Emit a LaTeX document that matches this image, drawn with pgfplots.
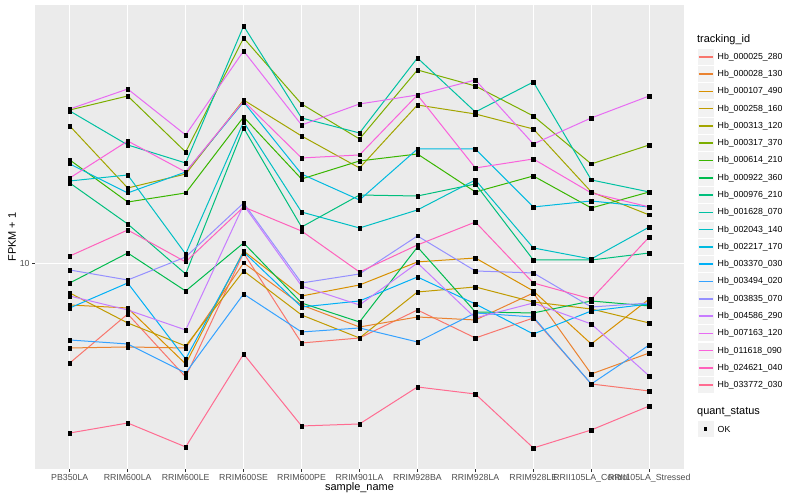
\documentclass[border=0pt]{standalone}
\usepackage{pgfplots}
\pgfplotsset{compat=1.18}
\usepackage{pgfplotstable}
\usepackage{fontspec}
\setmainfont{Liberation Sans}
\setsansfont{Liberation Sans}

\definecolor{panelgray}{HTML}{EBEBEB}
\definecolor{keygray}{HTML}{F2F2F2}
\definecolor{grey20}{HTML}{333333}
\definecolor{grey30}{HTML}{4D4D4D}
% ggplot hue palette, 20 levels
\definecolor{c01}{HTML}{F8766D}
\definecolor{c02}{HTML}{EA8331}
\definecolor{c03}{HTML}{D89000}
\definecolor{c04}{HTML}{C09B00}
\definecolor{c05}{HTML}{A3A500}
\definecolor{c06}{HTML}{7CAE00}
\definecolor{c07}{HTML}{39B600}
\definecolor{c08}{HTML}{00BB4E}
\definecolor{c09}{HTML}{00BF7D}
\definecolor{c10}{HTML}{00C1A3}
\definecolor{c11}{HTML}{00BFC4}
\definecolor{c12}{HTML}{00BAE0}
\definecolor{c13}{HTML}{00B0F6}
\definecolor{c14}{HTML}{35A2FF}
\definecolor{c15}{HTML}{9590FF}
\definecolor{c16}{HTML}{C77CFF}
\definecolor{c17}{HTML}{E76BF3}
\definecolor{c18}{HTML}{FA62DB}
\definecolor{c19}{HTML}{FF62BC}
\definecolor{c20}{HTML}{FF6C91}

% FPKM + 1 per sample (rows) and gene (columns)
\pgfplotstableread{
x  s01   s02   s03   s04   s05   s06   s07   s08   s09   s10   s11   s12   s13   s14   s15   s16   s17   s18   s19   s20
0  4.677 5.248 7.300 8.004 28.84 32.61 22.22 8.643 18.62 32.36 18.91 21.55 7.134 5.580 9.550 7.822 32.86 19.35 10.63 2.733
1  6.813 5.289 7.134 6.358 17.92 36.31 16.09 10.88 13.59 24.93 19.80 17.25 8.643 5.412 8.844 7.025 38.31 25.70 12.98 2.951
2  4.201 5.248 4.642 5.329 19.95 23.62 17.25 8.128 9.261 21.71 10.80 20.26 4.823 4.332 10.55 6.026 26.91 20.26 10.16 2.455
3  10.88 10.08 11.05 9.477 35.21 56.66 30.90 11.75 28.40 62.13 29.74 34.67 10.97 7.943 15.97 15.73 51.29 34.94 15.49 5.012
4  5.453 7.300 7.822 6.761 26.71 34.15 19.20 7.413 13.28 30.67 14.90 19.95 7.188 5.934 8.643 8.446 29.06 22.56 12.88 2.884
5  5.666 6.166 8.511 5.666 20.89 26.10 22.05 6.407 16.98 27.33 13.18 16.34 7.528 6.119 9.261 7.300 34.15 23.09 9.404 2.929
6  7.025 6.658 10.16 8.066 33.88 44.33 23.26 11.39 16.85 48.61 15.14 24.17 9.050 5.496 12.40 10.08 36.59 36.59 11.57 3.891
7  5.666 6.507 10.47 8.382 31.62 39.20 17.38 6.919 18.48 32.11 19.06 24.17 7.356 6.866 9.477 6.607 41.05 20.89 13.80 3.687
8  6.607 8.004 8.128 7.470 28.18 31.14 19.65 6.866 10.31 40.43 11.31 15.49 5.843 6.658 9.333 7.413 25.12 22.39 8.643 2.436
9  3.981 4.299 5.412 7.079 17.38 21.55 15.37 7.528 10.31 19.06 10.39 16.22 6.972 3.981 7.188 6.310 30.67 17.25 7.644 2.797
10 3.773 5.050 7.644 6.358 14.57 24.93 17.38 7.245 10.88 17.38 13.28 15.49 7.356 5.370 7.413 4.233 36.31 15.49 12.30 3.362
}\data

\begin{document}
\begin{tikzpicture}
\path (0,0) rectangle (800bp,500bp); % page = 800 x 500
\begin{axis}[
    at={(35bp,31bp)}, anchor=south west,
    scale only axis, width=649bp, height=464bp,
    clip mode=individual,
    xmin=-0.6, xmax=10.6,
    ymode=log, ymin=2.073, ymax=73.0,
    axis background/.style={fill=panelgray},
    axis line style={draw=none},
    xtick={0,...,10},
    xticklabels={PB350LA, RRIM600LA, RRIM600LE, RRIM600SE, RRIM600PE, RRIM901LA,
      RRIM928BA, RRIM928LA, RRIM928LE, RRII105LA\_Control, RRII105LA\_Stressed},
    ytick={10}, yticklabels={10},
    minor ytick={},
    xtick pos=left, ytick pos=left, tick align=outside,
    major tick length=2.75bp,
    tick style={grey20, line width=1bp},
    grid=major, major grid style={white, line width=1bp},
    ticklabel style={font=\fontsize{8.8}{10}\selectfont, text=grey30},
    xticklabel style={inner sep=0pt, yshift=-2.5bp},
    yticklabel style={inner sep=0pt, xshift=-2.5bp},
    xlabel={sample\_name}, ylabel={FPKM + 1},
    every axis x label/.style={at={(axis description cs:0.5,-0.041)}, anchor=center, font=\fontsize{11}{13}\selectfont},
    every axis y label/.style={at={(axis description cs:-0.0354,0.5)}, rotate=90, anchor=center, font=\fontsize{11}{13}\selectfont},
    legend style={at={(axis description cs:1.0200,0.9073)}, anchor=north west,
      draw=none, fill=none, inner sep=0pt, row sep=0pt,
      font=\fontsize{8.8}{10}\selectfont, nodes={inner sep=0pt},
      /tikz/every odd column/.append style={column sep=3.2bp}},
    legend cell align=left,
    legend image code/.code={
      \fill[keygray, draw=none] (0.6bp,-8.04bp) rectangle (16.68bp,8.04bp);
      \draw[#1, line width=1.5bp] (1.5bp,0bp) -- (15.8bp,0bp);
      \path[draw=none, fill=none] (0bp,-8.64bp) rectangle (17.28bp,8.64bp);},
    legend entries={Hb\_000025\_280, Hb\_000028\_130, Hb\_000107\_490, Hb\_000258\_160,
      Hb\_000313\_120, Hb\_000317\_370, Hb\_000614\_210, Hb\_000922\_360, Hb\_000976\_210,
      Hb\_001628\_070, Hb\_002043\_140, Hb\_002217\_170, Hb\_003370\_030, Hb\_003494\_020,
      Hb\_003835\_070, Hb\_004586\_290, Hb\_007163\_120, Hb\_011618\_090, Hb\_024621\_040,
      Hb\_033772\_030},
  ]
  \pgfplotsinvokeforeach{01,02,03,04,05,06,07,08,09,10,11,12,13,14,15,16,17,18,19,20}{
    \addplot[color=c#1, line width=1bp, mark=none] table[x=x, y=s#1] {\data};
  }
  \pgfplotsinvokeforeach{01,02,03,04,05,06,07,08,09,10,11,12,13,14,15,16,17,18,19,20}{
    \addplot[only marks, mark=square*, mark size=1.75bp, black, forget plot] table[x=x, y=s#1] {\data};
  }
  % legend titles and the shape key
  \node[anchor=west, inner sep=0pt, font=\fontsize{11}{13}\selectfont] at (axis description cs:1.0200,0.9246) {tracking\_id};
  \node[anchor=west, inner sep=0pt, font=\fontsize{11}{13}\selectfont] at (axis description cs:1.0200,0.1228) {quant\_status};
  \fill[keygray] ([xshift=0.6bp, yshift=-8.04bp]axis description cs:1.0200,0.0862) rectangle ([xshift=16.68bp, yshift=8.04bp]axis description cs:1.0200,0.0862);
  \fill[black] ([xshift=6.89bp, yshift=-1.75bp]axis description cs:1.0200,0.0862) rectangle ([xshift=10.39bp, yshift=1.75bp]axis description cs:1.0200,0.0862);
  \node[anchor=west, inner sep=0pt, font=\fontsize{8.8}{10}\selectfont] at ([xshift=20.5bp]axis description cs:1.0200,0.0862) {OK};
\end{axis}
\end{tikzpicture}
\end{document}
